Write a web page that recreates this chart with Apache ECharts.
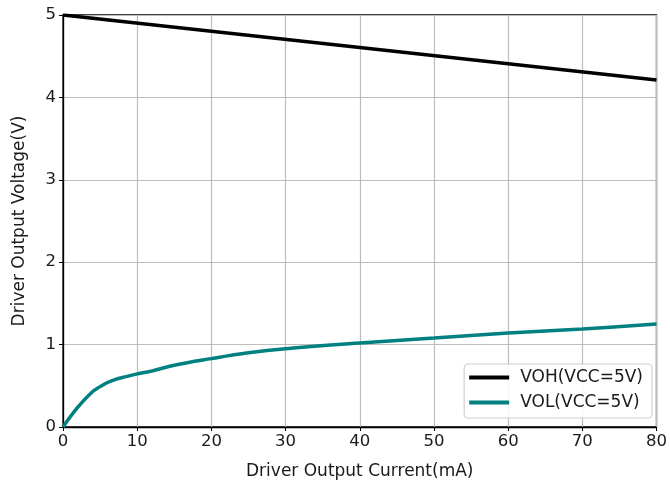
<!DOCTYPE html>
<html><head><meta charset="utf-8">
<script src="https://cdn.jsdelivr.net/npm/echarts@6/dist/echarts.min.js"></script>
<style>html,body{margin:0;padding:0;background:#fff}#c{width:670px;height:485px}</style>
</head><body><div id="c"></div>
<script>
const vohX = [0, 80];
const vohY = [5.0, 4.21];
const volX = [0, 2, 4, 5, 6, 7, 8, 10, 12, 15, 20, 25, 30, 40, 50, 60, 70, 80];
const volY = [0, 0.24, 0.43, 0.49, 0.54, 0.575, 0.6, 0.645, 0.68, 0.75, 0.83, 0.9, 0.95, 1.02, 1.08, 1.14, 1.19, 1.25];
const xTicks = [0, 10, 20, 30, 40, 50, 60, 70, 80];
const yTicks = [0, 1, 2, 3, 4, 5];

const font = 'DejaVu Sans';
const chart = echarts.init(document.getElementById('c'));
chart.setOption({
  animation: false,
  grid: {left: 63, right: 11, top: 15, bottom: 58, show: true, borderColor: '#000', borderWidth: 1.3, backgroundColor: 'transparent'},
  xAxis: {
    type: 'value', min: xTicks[0], max: xTicks[xTicks.length - 1], interval: 10,
    name: 'Driver Output Current(mA)', nameLocation: 'middle', nameGap: 36,
    nameTextStyle: {fontFamily: font, fontSize: 17, color: '#1a1a1a'},
    axisLine: {show: true, lineStyle: {color: '#000', width: 1.3}},
    axisTick: {show: true, length: 4, lineStyle: {color: '#000'}},
    axisLabel: {fontFamily: font, fontSize: 16.5, color: '#1a1a1a', margin: 6},
    splitLine: {show: true, lineStyle: {color: '#bdbdbd', width: 1.2}}
  },
  yAxis: {
    type: 'value', min: yTicks[0], max: yTicks[yTicks.length - 1], interval: 1,
    name: 'Driver Output Voltage(V)', nameLocation: 'middle', nameGap: 35, nameRotate: 90,
    nameTextStyle: {fontFamily: font, fontSize: 17, color: '#1a1a1a'},
    axisLine: {show: true, lineStyle: {color: '#000', width: 1.3}},
    axisTick: {show: true, length: 4, lineStyle: {color: '#000'}},
    axisLabel: {fontFamily: font, fontSize: 16.5, color: '#1a1a1a', margin: 7},
    splitLine: {show: true, lineStyle: {color: '#bdbdbd', width: 1.2}}
  },
  legend: {
    right: 18, bottom: 67, orient: 'vertical',
    backgroundColor: 'rgba(255,255,255,0.85)', borderColor: '#d0d0d0', borderWidth: 1.2, borderRadius: 4,
    padding: [5, 9, 7, 5], itemGap: 8, itemWidth: 40, itemHeight: 4,
    textStyle: {fontFamily: font, fontSize: 17, color: '#1a1a1a', padding: [0, 0, 0, 6]},
    data: [{name: 'VOH(VCC=5V)', icon: 'rect'}, {name: 'VOL(VCC=5V)', icon: 'rect'}]
  },
  series: [
    {name: 'VOH(VCC=5V)', type: 'line', showSymbol: false, color: '#000',
     lineStyle: {width: 3.5, color: '#000'}, data: vohX.map((x, i) => [x, vohY[i]])},
    {name: 'VOL(VCC=5V)', type: 'line', showSymbol: false, smooth: 0.4, color: '#008080',
     lineStyle: {width: 3.5, color: '#008080'}, data: volX.map((x, i) => [x, volY[i]])}
  ]
});
</script></body></html>
